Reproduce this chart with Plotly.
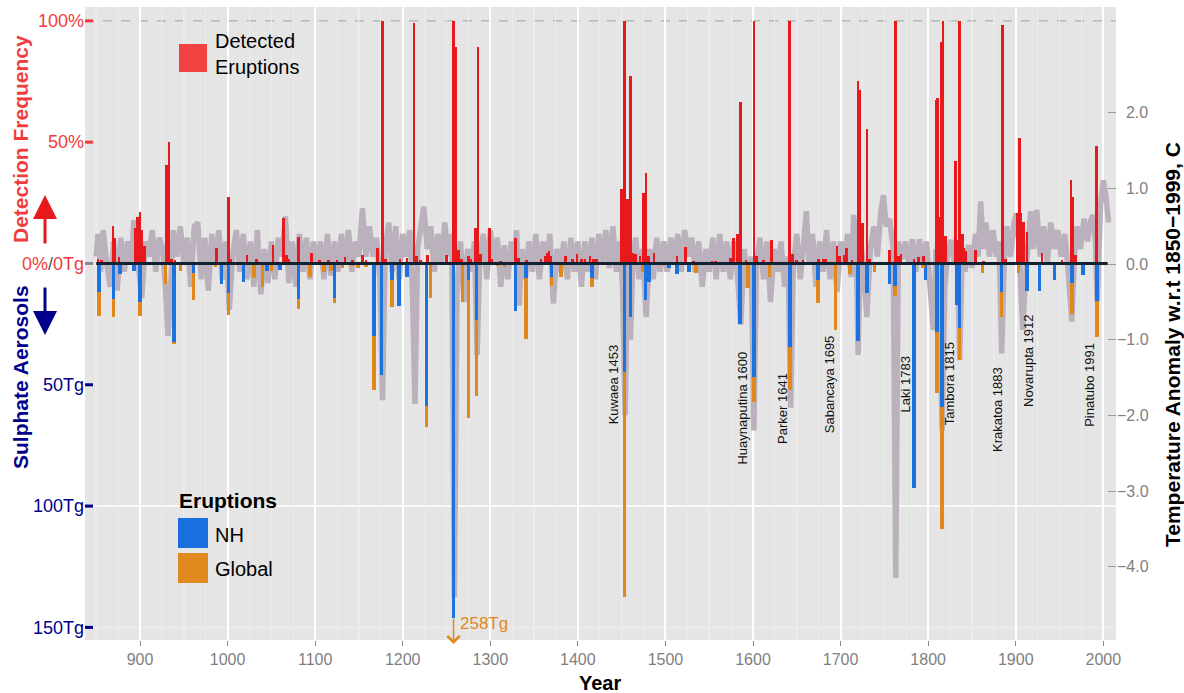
import plotly.graph_objects as go

# ---------------- data ----------------
# Detection frequency (%) of eruptions, red bars pointing up
det_years = [852, 856, 869, 871, 876, 895, 897, 900, 902, 905,
             930, 933, 936, 940, 987, 1001, 1004, 1022, 1033, 1052,
             1064, 1067, 1070, 1081, 1096, 1105, 1115, 1125, 1134, 1143,
             1154, 1158, 1171, 1177, 1180, 1197, 1205, 1213, 1216, 1220,
             1228, 1250, 1258, 1261, 1264, 1267, 1275, 1278, 1283, 1286,
             1289, 1299, 1302, 1312, 1329, 1332, 1341, 1358, 1363, 1365,
             1367, 1369, 1386, 1394, 1399, 1404, 1408, 1414, 1418, 1421,
             1450, 1453, 1455, 1457, 1460, 1463, 1466, 1471, 1475, 1478,
             1481, 1487, 1513, 1523, 1532, 1553, 1557, 1574, 1578, 1582,
             1586, 1592, 1601, 1604, 1612, 1621, 1642, 1645, 1650, 1657,
             1675, 1680, 1683, 1696, 1699, 1704, 1707, 1713, 1720, 1722,
             1725, 1730, 1733, 1756, 1763, 1766, 1769, 1784, 1789, 1795,
             1809, 1811, 1813, 1815, 1817, 1820, 1831, 1833, 1836, 1839,
             1841, 1843, 1854, 1863, 1885, 1888, 1902, 1904, 1906, 1909,
             1913, 1930, 1953, 1963, 1965, 1968, 1992]
det_freq = [2, 1.5, 15.5, 10.4, 2.5, 14.5, 19.3, 21.4, 13.8, 7.2,
            40.6, 50.2, 2, 1.5, 6.3, 27.5, 2, 3.5, 2, 7.5,
            18.6, 3.5, 2, 10.8, 4.4, 1.5, 1.5, 1.5, 2.5, 1.5,
            3.5, 1.5, 6.3, 100, 2, 2, 2.3, 99, 3, 1.5,
            3.5, 3.5, 100, 89.4, 5.5, 2, 3, 2, 14.5, 89.4,
            4, 14.5, 2, 1, 10.6, 2.4, 1.5, 2, 3, 4.4,
            5, 3, 3, 2, 4, 2, 2, 3, 2, 2,
            30.5, 100, 24.5, 26.5, 77.3, 4.5, 3.7, 3, 29, 37.4,
            3, 4.4, 3, 6.7, 1, 1, 1, 2.3, 10.6, 12,
            66.4, 1.5, 100, 3, 1.5, 9.6, 100, 4, 1.5, 1.5,
            2, 2, 2, 7, 3, 3.5, 6.5, 1.5, 75.3, 71.5,
            16.8, 55.3, 2, 5.5, 100, 3, 4, 2, 2.5, 3,
            67.4, 68.3, 19.3, 91.4, 100, 11.3, 42.4, 9.6, 100, 12,
            6.5, 5, 5.5, 1, 98.3, 2, 20.7, 51.6, 20.7, 17,
            13, 4.5, 1.5, 34.4, 27.5, 3.5, 48.6]

# Sulphate aerosol loading (Tg): NH part (blue) and global part (orange, stacked below)
eru_years = [853, 870, 877, 893, 900,
             929, 939, 946, 961, 986,
             993, 1001, 1018, 1030, 1040,
             1045, 1050, 1060, 1081, 1094,
             1110, 1118, 1122, 1131, 1142,
             1149, 1158, 1167, 1176, 1188,
             1196, 1205, 1227, 1232, 1258,
             1268, 1275, 1284, 1308, 1316,
             1329, 1341, 1357, 1370, 1381,
             1416, 1453, 1460, 1474, 1477,
             1481, 1504, 1513, 1527, 1535,
             1585, 1594, 1601, 1619, 1642,
             1674, 1694, 1711, 1720, 1730,
             1739, 1756, 1762, 1784, 1794,
             1797, 1810, 1816, 1833, 1836,
             1862, 1884, 1903, 1913, 1927,
             1944, 1964, 1977, 1993]
eru_nh = [11.6, 14.8, 4.5, 3, 15.7,
          0, 32.2, 0, 4, 0,
          8.5, 12.3, 7.5, 0, 0,
          3, 0, 2.7, 14.6, 0,
          0, 0, 14.4, 0, 0,
          0, 0, 29.9, 46, 7,
          17.5, 5.4, 58.7, 0, 258,
          0, 6.8, 23.3, 0, 0,
          19.8, 5.8, 0, 5.4, 0,
          5.8, 44.6, 22.2, 0, 15,
          7.5, 2, 4.3, 3.6, 0,
          25, 0, 47, 0, 34.4,
          6.8, 0, 0, 31.8, 12.3,
          0, 8.3, 9.2, 92.7, 0,
          6.8, 28.1, 59, 17.1, 26.7,
          0, 11.6, 0, 11.3, 11.3,
          6.8, 7.9, 4.7, 15.3]
eru_global = [9.9, 7.4, 0, 0, 5.8,
              8.5, 1.1, 3, 11, 1.6,
              0, 8.9, 0, 6.1, 9.5,
              0, 3, 0, 4.3, 5.4,
              3.4, 3, 1.7, 2, 1,
              2, 1.5, 22.2, 0, 11,
              0, 0, 8.8, 14.1, 0,
              15.7, 57, 31.3, 1, 1.5,
              0, 25.5, 0.8, 3.9, 5.4,
              4, 92.9, 0, 3.4, 0,
              0, 0, 0, 0, 4,
              0, 10, 10, 5.5, 17.9,
              9.6, 27.4, 4.2, 0, 0,
              3.7, 0, 4.1, 0, 1.8,
              0, 25.4, 50.6, 0, 13.1,
              4, 10.3, 3.8, 0, 0,
              0, 13.1, 0, 14.9]

# Temperature anomaly w.r.t. 1850-1999 (deg C), grey line
temp_years = [850, 852, 855, 858, 862, 866, 870, 874, 878, 882, 886, 890,
              893, 896, 899, 902, 906, 910, 914, 918, 922, 926, 930, 932,
              935, 938, 942, 946, 950, 954, 958, 962, 966, 970, 974, 978,
              982, 986, 990, 994, 998, 1002, 1006, 1010, 1014, 1018, 1022, 1026,
              1030, 1034, 1038, 1042, 1046, 1050, 1054, 1058, 1062, 1066, 1070, 1074,
              1078, 1082, 1086, 1090, 1094, 1098, 1102, 1106, 1110, 1114, 1118, 1122,
              1126, 1130, 1134, 1138, 1142, 1146, 1150, 1154, 1158, 1162, 1166, 1170,
              1174, 1177, 1180, 1184, 1188, 1192, 1196, 1200, 1204, 1208, 1211, 1214,
              1217, 1220, 1224, 1228, 1232, 1236, 1240, 1244, 1248, 1252, 1256, 1259,
              1262, 1266, 1270, 1274, 1278, 1282, 1285, 1288, 1292, 1296, 1300, 1304,
              1308, 1312, 1316, 1320, 1324, 1327, 1330, 1333, 1336, 1340, 1344, 1348,
              1352, 1356, 1360, 1364, 1368, 1372, 1376, 1380, 1384, 1388, 1392, 1396,
              1400, 1404, 1408, 1412, 1416, 1420, 1424, 1428, 1432, 1436, 1440, 1444,
              1448, 1451, 1454, 1457, 1460, 1463, 1466, 1470, 1474, 1478, 1482, 1486,
              1490, 1494, 1498, 1502, 1506, 1510, 1514, 1518, 1522, 1526, 1530, 1534,
              1538, 1542, 1546, 1550, 1554, 1558, 1562, 1566, 1570, 1574, 1578, 1582,
              1586, 1590, 1594, 1598, 1601, 1604, 1608, 1612, 1616, 1620, 1624, 1628,
              1632, 1636, 1640, 1643, 1646, 1650, 1654, 1658, 1661, 1664, 1668, 1672,
              1676, 1680, 1684, 1688, 1692, 1696, 1700, 1704, 1708, 1712, 1715, 1718,
              1720, 1723, 1726, 1730, 1734, 1738, 1742, 1746, 1749, 1752, 1756, 1760,
              1763, 1766, 1770, 1774, 1778, 1782, 1786, 1790, 1794, 1798, 1802, 1806,
              1809, 1812, 1816, 1819, 1822, 1826, 1830, 1833, 1836, 1839, 1842, 1846,
              1850, 1854, 1857, 1860, 1863, 1866, 1870, 1874, 1878, 1881, 1884, 1887,
              1890, 1894, 1898, 1901, 1904, 1908, 1911, 1914, 1917, 1920, 1924, 1928,
              1932, 1936, 1940, 1944, 1948, 1952, 1956, 1960, 1964, 1967, 1970, 1974,
              1978, 1982, 1985, 1988, 1991, 1993, 1997, 2000, 2003, 2006]
temp_anom = [0.1, 0.4, -0.1, 0.45, 0.0, -0.3, 0.3, -0.35, 0.35, -0.1, 0.3, 0.0,
             0.58, 0.2, -0.1, -0.45, 0.3, 0.1, 0.45, -0.1, 0.35, 0.2, -0.5, -0.95,
             -0.3, 0.45, 0.1, 0.5, 0.0, 0.35, -0.3, 0.5, 0.55, -0.2, 0.35, -0.35,
             0.4, 0.0, 0.45, -0.2, 0.3, -0.6, 0.15, 0.45, -0.1, 0.4, -0.2, 0.3,
             -0.3, 0.45, -0.4, 0.2, -0.25, 0.3, -0.2, 0.35, 0.1, 0.63, -0.25, 0.3,
             -0.3, 0.4, -0.1, 0.35, -0.2, 0.3, 0.0, 0.3, -0.2, 0.4, -0.15, 0.3,
             -0.1, 0.4, 0.0, 0.45, -0.1, 0.3, 0.1, 0.74, 0.1, 0.5, 0.1, 0.35,
             -0.2, -1.8, 0.2, 0.55, -0.1, 0.5, -0.2, 0.4, 0.1, 0.45, -0.3, -1.85,
             0.2, 0.45, 0.76, 0.2, 0.5, -0.1, 0.4, 0.0, 0.55, 0.1, 0.4, -4.4,
             -0.3, 0.3, -0.5, 0.2, -0.1, 0.3, -1.2, 0.1, 0.4, -0.2, 0.45, 0.0,
             0.35, -0.3, 0.25, -0.2, 0.3, 0.0, 0.45, -0.55, 0.2, -0.2, 0.3, -0.1,
             0.4, -0.2, 0.3, 0.0, 0.4, -0.52, 0.2, -0.1, 0.3, -0.2, 0.35, -0.1,
             0.3, -0.3, 0.3, -0.1, 0.35, -0.2, 0.4, 0.0, 0.45, -0.05, 0.5, -0.1,
             0.3, -0.3, -2.0, 0.2, -1.0, 0.1, 0.35, -0.2, 0.2, -0.7, 0.2, -0.2,
             0.35, -0.1, 0.3, -0.1, 0.35, 0.0, 0.4, -0.1, 0.45, 0.1, 0.35, -0.1,
             0.3, -0.3, 0.2, -0.1, 0.35, -0.2, 0.4, -0.1, 0.3, -0.2, 0.3, -0.1,
             -0.8, 0.2, -0.3, 0.1, -2.2, 0.0, 0.35, -0.2, 0.3, -0.5, 0.2, -0.1,
             0.3, -0.3, 0.1, -1.9, 0.0, 0.4, -0.2, 0.3, 0.7, 0.0, 0.4, -0.3,
             0.3, -0.1, 0.45, -0.2, 0.3, -0.37, 0.3, 0.0, 0.4, -0.17, 0.65, 0.1,
             -1.2, 0.3, 0.0, -0.7, 0.2, 0.5, 0.1, 0.7, 0.91, 0.5, 0.6, 0.2,
             -4.15, 0.3, 0.07, 0.3, 0.0, 0.33, -0.1, 0.33, 0.0, 0.3, -0.2, -0.87,
             0.2, -0.1, -2.2, -0.3, 0.1, 0.32, 0.0, 0.3, -1.27, 0.2, -0.1, 0.25,
             -0.05, 0.4, 0.1, 0.83, 0.2, 0.55, 0.1, 0.45, 0.1, 0.3, -1.18, 0.1,
             0.5, 0.1, 0.55, 0.67, 0.2, -0.87, -0.2, 0.3, 0.7, 0.2, 0.72, 0.1,
             0.5, 0.0, 0.55, 0.2, 0.45, 0.1, 0.4, -0.1, -0.76, 0.1, 0.5, 0.2,
             0.6, 0.3, 0.55, 0.65, 0.3, -0.5, 0.8, 1.11, 0.9, 0.55]

# axis ticks
x_ticks = [900, 1000, 1100, 1200, 1300, 1400, 1500, 1600, 1700, 1800, 1900, 2000]
temp_ticks = [2.0, 1.0, 0.0, -1.0, -2.0, -3.0, -4.0]
left_tickvals = [100, 50, 0, -50, -100, -150]
left_ticklabels = ["100%", "50%", "0%/0Tg", "50Tg", "100Tg", "150Tg"]

# named eruptions (label text, label year position, label Tg position)
eruption_names = ["Kuwaea 1453", "Huaynaputina 1600", "Parker 1641", "Sabancaya 1695",
                  "Laki 1783", "Tambora 1815", "Krakatoa 1883", "Novarupta 1912",
                  "Pinatubo 1991"]
name_x = [1440.5, 1588, 1633, 1687, 1774, 1824, 1878.5, 1914, 1984]
name_y = [-49.7, -59.6, -59.6, -49.7, -49.7, -49.7, -60, -39.8, -49.9]

assert len(det_years) == len(det_freq)
assert len(eru_years) == len(eru_nh) == len(eru_global)
assert len(temp_years) == len(temp_anom)

# ---------------- styling ----------------
FONT = "Liberation Sans, Arial, Helvetica, sans-serif"
RED_BAR = "#E8191C"
RED_TXT = "#F03C3C"
BLUE = "#1C72DE"
ORANGE = "#E0881C"
NAVY = "#00008B"
GREY_LINE = "#BBB1BC"
AXIS_GREY = "#7F7F7F"
DISPLAY_LIMIT = 146  # bars deeper than this are cut and flagged with an arrow

W, H = 1184, 693
ML, MR, MT, MB = 85, 68, 7, 53
PW, PH = W - ML - MR, H - MT - MB


def px_x(px):
    return (px - ML) / PW


def px_y(py):
    return (H - MB - py) / PH


fig = go.Figure()

fig.add_trace(go.Scatter(x=temp_years, y=temp_anom, mode="lines", yaxis="y",
                         line=dict(color=GREY_LINE, width=5.5), hoverinfo="skip"))

fig.add_trace(go.Bar(x=det_years, y=det_freq, width=3, yaxis="y2",
                     marker=dict(color=RED_BAR, line=dict(width=0))))
fig.add_trace(go.Bar(x=eru_years, y=[-min(v, DISPLAY_LIMIT) for v in eru_nh], width=4,
                     yaxis="y2", marker=dict(color=BLUE, line=dict(width=0))))
fig.add_trace(go.Bar(x=eru_years, y=[-v for v in eru_global], width=4, yaxis="y2",
                     marker=dict(color=ORANGE, line=dict(width=0))))

temp_text = [("\u2007" if v >= 0 else "") + f"{v:.1f}".replace("-", "\u2212") for v in temp_ticks]

left_colors = [RED_TXT, RED_TXT, "#8a8a8a", NAVY, NAVY, NAVY]
left_text = []
for lab, c in zip(left_ticklabels, left_colors):
    if "/" in lab:
        a, b = lab.split("/")
        left_text.append(f'<span style="color:{RED_TXT}">{a}</span>'
                         f'<span style="color:#555555">/</span>'
                         f'<span style="color:{RED_TXT}">{b}</span>')
    else:
        left_text.append(f'<span style="color:{c}">{lab}</span>')

fig.update_layout(
    width=W, height=H,
    margin=dict(l=ML, r=MR, t=MT, b=MB, pad=0),
    paper_bgcolor="white", plot_bgcolor="#E5E5E5",
    barmode="relative", bargap=0, showlegend=False,
    font=dict(family=FONT, color="black"),
    xaxis=dict(range=[837.2, 2014.5], tickmode="array", tickvals=x_ticks,
               ticks="outside", ticklen=5, tickcolor="#8a8a8a", tickwidth=1.2,
               tickfont=dict(size=16, color=AXIS_GREY),
               showgrid=True, gridcolor="white", gridwidth=1.6,
               zeroline=False, showline=False, automargin=False,
               minor=dict(tick0=850, dtick=25, showgrid=True,
                          gridcolor="#ECECEC", gridwidth=1, ticks="")),
    yaxis=dict(range=[-4.97, 3.40], side="right", tickmode="array",
               tickvals=temp_ticks, ticktext=temp_text,
               ticks="inside", ticklen=8, tickcolor="#9a9a9a", tickwidth=1,
               tickfont=dict(size=16, color=AXIS_GREY),
               showgrid=False, zeroline=False, showline=False, automargin=False),
    yaxis2=dict(range=[-155.2, 105.7], overlaying="y", side="left", tickmode="array",
                tickvals=left_tickvals, ticktext=left_text, ticks="",
                tickfont=dict(size=18, color=NAVY),
                showgrid=False, zeroline=False, showline=False, automargin=False),
)

shapes = []
# extra vertical grid at the 50-year marks
for yr in range(850, 2000, 100):
    shapes.append(dict(type="line", xref="x", yref="paper", x0=yr, x1=yr, y0=0, y1=1,
                       layer="between", line=dict(color="#F6F6F6", width=1)))
# horizontal grid lines
shapes.append(dict(type="line", xref="paper", yref="y2", x0=0, x1=1, y0=-100, y1=-100,
                   layer="between", line=dict(color="white", width=1.6)))
shapes.append(dict(type="line", xref="paper", yref="y2", x0=0, x1=1, y0=-150, y1=-150,
                   layer="between", line=dict(color="#EFEFEF", width=1)))
# dashed 100% line
shapes.append(dict(type="line", xref="paper", yref="y2", x0=0, x1=1, y0=100, y1=100,
                   layer="between", line=dict(color="#ADADAD", width=1.2, dash="dash")))
# zero line
shapes.append(dict(type="line", xref="x", yref="y2", x0=850, x1=2005, y0=0, y1=0,
                   layer="above", line=dict(color="#0E2231", width=3)))
# coloured left ticks
for v, c in zip(left_tickvals, left_colors):
    shapes.append(dict(type="line", xref="paper", yref="y2", x0=0, x1=px_x(ML + 8),
                       y0=v, y1=v, layer="above", line=dict(color=c, width=3)))
# legend keys
shapes.append(dict(type="rect", xref="paper", yref="paper", x0=px_x(179), x1=px_x(207),
                   y0=px_y(72), y1=px_y(44), fillcolor="#F24343", line=dict(width=0)))
shapes.append(dict(type="rect", xref="paper", yref="paper", x0=px_x(178), x1=px_x(208),
                   y0=px_y(548), y1=px_y(518), fillcolor="#1A6FE0", line=dict(width=0)))
shapes.append(dict(type="rect", xref="paper", yref="paper", x0=px_x(178), x1=px_x(208),
                   y0=px_y(583), y1=px_y(553), fillcolor="#E0891C", line=dict(width=0)))
fig.update_layout(shapes=shapes)


def paper_text(text, xpx, ypx, size, color="black", xanchor="center", angle=0,
               align="center"):
    return dict(text=text, x=px_x(xpx), y=px_y(ypx), xref="paper", yref="paper",
                xanchor=xanchor, yanchor="middle", align=align, showarrow=False,
                textangle=angle, font=dict(size=size, color=color, family=FONT))


ann = []
for t, xv, yv in zip(eruption_names, name_x, name_y):
    ann.append(dict(text=t, x=xv, y=yv, xref="x", yref="y2", showarrow=False,
                    xanchor="center", yanchor="middle", textangle=-90,
                    font=dict(size=13, color="#111111", family=FONT)))

# 258Tg flag
ann.append(dict(text="", x=1258, y=px_y(644), xref="x", yref="paper", showarrow=True,
                ax=0, ay=-27, arrowhead=4, arrowsize=1.6, arrowwidth=1.5,
                arrowcolor=ORANGE))
ann.append(dict(text="258Tg", x=1258, y=px_y(623), xref="x", yref="paper",
                xanchor="left", yanchor="middle", xshift=4, showarrow=False,
                font=dict(size=17, color=ORANGE, family=FONT)))

# left axis titles and arrows
ann.append(paper_text("<b>Detection Frequency</b>", 20, 139, 21, RED_TXT, angle=-90))
ann.append(paper_text("<b>Sulphate Aerosols</b>", 20, 377, 21, NAVY, angle=-90))
ann.append(dict(text="", x=px_x(45), y=px_y(195), xref="paper", yref="paper",
                showarrow=True, ax=0, ay=50, arrowhead=2, arrowsize=1.6,
                arrowwidth=3, arrowcolor="#E8191C"))
ann.append(dict(text="", x=px_x(45), y=px_y(335), xref="paper", yref="paper",
                showarrow=True, ax=0, ay=-49, arrowhead=2, arrowsize=1.6,
                arrowwidth=3, arrowcolor=NAVY))
# right axis title
ann.append(paper_text("<b>Temperature Anomaly w.r.t 1850\u22121999, C</b>",
                      1172, 345, 21, "black", angle=-90))
# x axis title
ann.append(paper_text("<b>Year</b>", 600, 683, 20, "black"))
# legends text
ann.append(paper_text("Detected<br>Eruptions", 213, 54, 20, "black",
                      xanchor="left", align="left"))
ann.append(paper_text("<b>Eruptions</b>", 177, 500, 21, "black", xanchor="left"))
ann.append(paper_text("NH", 213, 535, 20, "black", xanchor="left"))
ann.append(paper_text("Global", 213, 569, 20, "black", xanchor="left"))
fig.update_layout(annotations=ann)

fig.write_html("out.html")
